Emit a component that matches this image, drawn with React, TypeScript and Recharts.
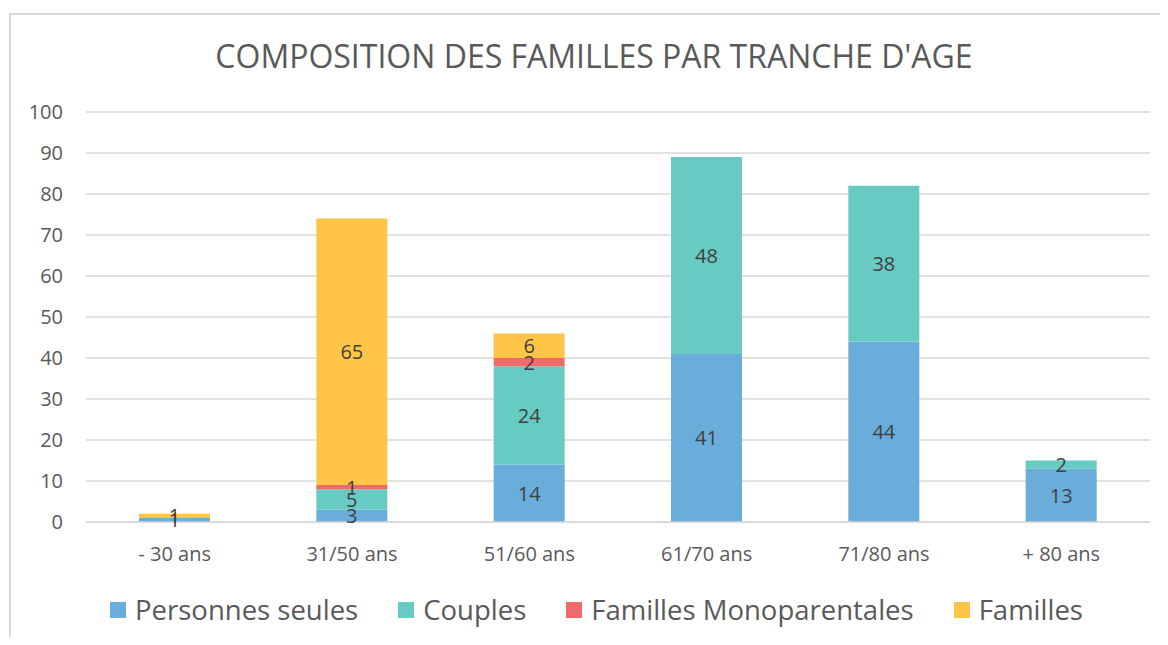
import React from "react";
import { BarChart, Bar, XAxis, YAxis, CartesianGrid, Legend, LabelList } from "recharts";

const categories = ["- 30 ans", "31/50 ans", "51/60 ans", "61/70 ans", "71/80 ans", "+ 80 ans"];
const personnesSeules = [1, 3, 14, 41, 44, 13];
const couples = [0, 5, 24, 48, 38, 2];
const famillesMono = [0, 1, 2, 0, 0, 0];
const familles = [1, 65, 6, 0, 0, 0];
const yTicks = [0, 10, 20, 30, 40, 50, 60, 70, 80, 90, 100];

const series = [
  { key: "seules", name: "Personnes seules", color: "#6AADDB" },
  { key: "couples", name: "Couples", color: "#67CBC4" },
  { key: "mono", name: "Familles Monoparentales", color: "#EE6A6D" },
  { key: "familles", name: "Familles", color: "#FFC546" },
];

const data = categories.map((cat, i) => ({
  cat,
  seules: personnesSeules[i],
  couples: couples[i],
  mono: famillesMono[i],
  familles: familles[i],
}));

const FONT = "'Open Sans', sans-serif";

const renderLabel = (props: any) => {
  const { x, y, width, height, value } = props;
  if (!value) return null;
  return (
    <text
      x={Number(x) + Number(width) / 2}
      y={Number(y) + Number(height) / 2}
      textAnchor="middle"
      dominantBaseline="central"
      fill="#404040"
      fontSize={20}
      fontFamily={FONT}
    >
      {value}
    </text>
  );
};

const LegendContent = () => (
  <div
    style={{
      display: "flex",
      justifyContent: "center",
      fontFamily: FONT,
      fontSize: 27.5,
      color: "#595959",
      lineHeight: "40px",
      paddingLeft: 25,
    }}
  >
    {series.map((s) => (
      <div key={s.key} style={{ display: "flex", alignItems: "center", margin: "0 20px" }}>
        <span style={{ width: 16, height: 16, background: s.color, display: "inline-block", marginRight: 9 }} />
        <span>{s.name}</span>
      </div>
    ))}
  </div>
);

export default function App() {
  return (
    <div style={{ position: "relative", width: 1168, height: 645, margin: -8, background: "#fff", overflow: "hidden" }}>
      <div
        style={{
          position: "absolute",
          left: 9,
          top: 13,
          width: 1200,
          height: 700,
          borderLeft: "2px solid #d9d9d9",
          borderTop: "2px solid #d9d9d9",
        }}
      />
      <div
        style={{
          position: "absolute",
          top: 34,
          left: 0,
          width: 1188,
          textAlign: "center",
          fontFamily: FONT,
          fontSize: 32,
          color: "#595959",
        }}
      >
        COMPOSITION DES FAMILLES PAR TRANCHE D'AGE
      </div>
      <div style={{ position: "absolute", left: 0, top: 0 }}>
        <BarChart
          width={1168}
          height={645}
          data={data}
          margin={{ top: 112, right: 18, bottom: 43, left: 0 }}
          barCategoryGap={0}
        >
          <CartesianGrid vertical={false} stroke="#d9d9d9" strokeWidth={1.5} />
          <XAxis
            dataKey="cat"
            axisLine={{ stroke: "#d9d9d9", strokeWidth: 1.5 }}
            tickLine={false}
            tickMargin={19}
            height={40}
            tick={{ fill: "#595959", fontSize: 20, fontFamily: FONT }}
          />
          <YAxis
            domain={[0, 100]}
            ticks={yTicks}
            width={86}
            axisLine={false}
            tickLine={false}
            tickSize={0}
            tickMargin={23}
            tick={{ fill: "#595959", fontSize: 20, fontFamily: FONT }}
          />
          <Legend
            verticalAlign="bottom"
            height={40}
            content={<LegendContent />}
            wrapperStyle={{ position: "absolute", left: 0, top: 590, width: 1168, height: 40 }}
          />
          {series.map((s) => (
            <Bar key={s.key} dataKey={s.key} name={s.name} stackId="a" fill={s.color} barSize={71} isAnimationActive={false}>
              <LabelList dataKey={s.key} content={renderLabel} />
            </Bar>
          ))}
        </BarChart>
      </div>
    </div>
  );
}
